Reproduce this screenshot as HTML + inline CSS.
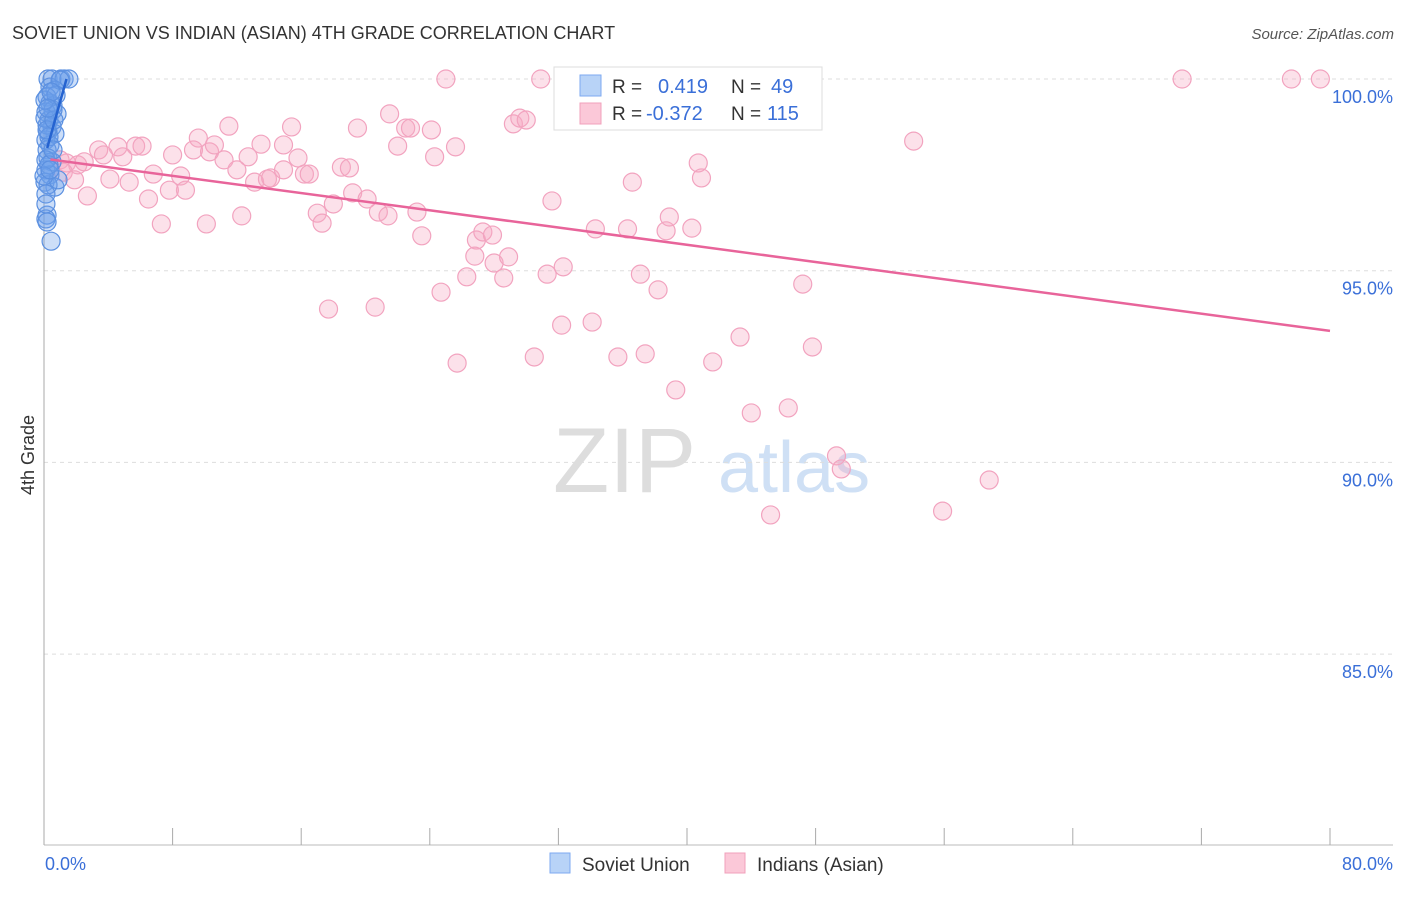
<!DOCTYPE html>
<html><head><meta charset="utf-8"><style>
body{margin:0;background:#fff;font-family:"Liberation Sans",sans-serif}
svg text{font-family:"Liberation Sans",sans-serif}
</style></head><body>
<svg id="c" width="1406" height="892" xmlns="http://www.w3.org/2000/svg">
<text x="12" y="39" font-size="18" fill="#333">SOVIET UNION VS INDIAN (ASIAN) 4TH GRADE CORRELATION CHART</text>
<text x="1394" y="39" font-size="15" fill="#555" font-style="italic" text-anchor="end">Source: ZipAtlas.com</text>
<text x="0" y="0" font-size="18" fill="#333" text-anchor="middle" transform="translate(34,455) rotate(-90)">4th Grade</text>
<g><text x="553" y="492" font-size="92" fill="#ddd" font-family="Liberation Serif,serif">ZIP</text><text x="718" y="492" font-size="72" fill="#cfe0f5">atlas</text></g>
<g id="grid"></g><g id="marks"></g>
<g>
<rect x="554" y="67" width="268" height="63" fill="#fff" stroke="#ddd"/>
<rect x="580" y="75" width="21" height="21" fill="#b8d3f7" stroke="#7eaaf0"/>
<rect x="580" y="103" width="21" height="21" fill="#fbc8d8" stroke="#f0a0bb"/>
<text x="612" y="93" font-size="19" fill="#333">R =</text><text x="658" y="93" font-size="20" fill="#3a6fd8">0.419</text>
<text x="731" y="93" font-size="19" fill="#333">N =</text><text x="771" y="93" font-size="20" fill="#3a6fd8">49</text>
<text x="612" y="120" font-size="19" fill="#333">R =</text><text x="646" y="120" font-size="20" fill="#3a6fd8">-0.372</text>
<text x="731" y="120" font-size="19" fill="#333">N =</text><text x="767" y="120" font-size="20" fill="#3a6fd8">115</text>
</g>
<g>
<rect x="550" y="853" width="20" height="20" fill="#b8d3f7" stroke="#7eaaf0"/>
<text x="582" y="871" font-size="19" fill="#333">Soviet Union</text>
<rect x="725" y="853" width="20" height="20" fill="#fbc8d8" stroke="#f0a0bb"/>
<text x="757" y="871" font-size="19" fill="#333">Indians (Asian)</text>
</g>
</svg>
<script>
const yTicks=[100,95,90,85];
const yTickLabels=["100.0%","95.0%","90.0%","85.0%"];
const xTickLabels=["0.0%","80.0%"];
const blueX=[0.25,0.5,1.05,1.25,1.55,0.37,0.68,0.19,0.37,0.56,0.12,0.81,0.31,0.5,0.25,0.68,0.12,0.37,0.19,0.25,0.5,0.12,0.37,0.06,0.68,0.25,0.12,0.19,0.12,0.19,0.44,0.12,0.31,0.87,0.56,0.19,0.06,1.0,0.75,0.31,0.44,0.06,0.19,0.56,0.0,0.12,0.37,0.62,0.25];
const blueY=[100,100,100,100,100,99.79,99.71,99.53,99.37,99.30,99.14,99.09,98.93,98.75,98.62,98.57,98.41,98.28,98.15,97.94,97.84,97.63,97.50,97.31,97.18,97.24,97.0,96.45,96.35,96.27,95.77,97.89,97.76,97.37,99.19,98.80,99.45,99.97,99.58,98.49,99.66,98.98,98.67,98.15,97.47,96.74,97.63,98.93,99.24];
const pinkX=[25.0,30.9,46.8,70.8,77.6,79.4,54.1,11.5,9.6,15.4,19.5,21.5,22.5,22.8,24.1,25.6,29.2,29.6,30.0,3.4,4.6,5.7,6.1,3.7,4.9,8.0,9.3,10.3,10.6,11.2,12.0,12.7,13.5,14.9,15.8,13.1,13.9,14.1,14.9,16.2,16.5,18.5,19.0,22.0,24.3,1.0,1.4,2.1,2.5,1.2,1.9,2.7,4.1,5.3,6.8,8.5,8.8,7.8,6.5,7.3,10.1,12.3,17.0,17.3,18.0,19.2,20.1,20.8,21.4,23.2,23.5,26.9,27.3,27.9,31.6,34.3,36.3,38.7,38.9,40.3,40.7,40.9,36.6,26.8,28.0,28.9,31.3,32.3,26.3,24.7,28.6,37.1,38.2,47.2,17.7,20.6,32.2,34.1,25.7,30.5,35.7,37.4,41.6,43.3,47.8,39.3,44.0,46.3,49.3,49.6,58.8,45.2,55.9];
const pinkY=[100,100,100,100,100,100,98.38,98.77,98.46,98.75,98.72,99.09,98.72,98.72,98.67,98.23,98.83,98.98,98.93,98.15,98.23,98.25,98.25,98.02,97.97,98.02,98.15,98.10,98.28,97.89,97.63,97.97,98.30,98.28,97.94,97.31,97.39,97.42,97.63,97.52,97.52,97.70,97.68,98.25,97.97,97.89,97.81,97.76,97.84,97.57,97.37,96.95,97.39,97.31,97.52,97.47,97.10,97.10,96.87,96.22,96.22,96.43,96.50,96.24,96.74,97.03,96.87,96.53,96.43,96.53,95.91,95.80,96.01,95.93,96.82,96.09,96.09,96.04,96.40,96.11,97.81,97.42,97.31,95.38,95.20,95.36,94.91,95.10,94.84,94.44,94.81,94.91,94.50,94.65,94.00,94.05,93.58,93.66,92.59,92.75,92.75,92.83,92.62,93.27,93.01,91.89,91.29,91.42,90.17,89.83,89.54,88.63,88.73];
const blueTrend=[[0.2,98.2],[1.4,100]];
const pinkTrend=[[0.4,97.9],[80,93.43]];
const NS="http://www.w3.org/2000/svg";
const X=v=>44+v/80*1286, Y=v=>79+(100-v)*38.34;
const grid=document.getElementById('grid'), marks=document.getElementById('marks');
function mk(p,tag,a){const e=document.createElementNS(NS,tag);for(const k in a)e.setAttribute(k,a[k]);p.appendChild(e);return e;}
yTicks.forEach((t,i)=>{
 const l=mk(grid,'line',{x1:44,x2:1393,y1:Y(t),y2:Y(t),stroke:'#ddd','stroke-dasharray':'4,4'});
 
 
 const tx=mk(grid,'text',{x:1393,y:Y(t)+24,'font-size':18,fill:'#3a6fd8','text-anchor':'end'});tx.textContent=yTickLabels[i];
 
 
});
let ax=mk(grid,'line',{x1:44,x2:44,y1:70,y2:845,stroke:'#aaa'});


ax=mk(grid,'line',{x1:44,x2:1393,y1:845,y2:845,stroke:'#bbb'});


for(let i=0;i<=10;i++){const t=mk(grid,'line',{x1:X(i*8),x2:X(i*8),y1:828,y2:845,stroke:'#aaa'});
 
 }
let xl=mk(grid,'text',{x:45,y:870,'font-size':18,fill:'#3a6fd8'});xl.textContent=xTickLabels[0];


xl=mk(grid,'text',{x:1393,y:870,'font-size':18,fill:'#3a6fd8','text-anchor':'end'});xl.textContent=xTickLabels[1];


pinkX.forEach((v,i)=>{const c=mk(marks,'circle',{cx:X(v),cy:Y(pinkY[i]),r:9,fill:'rgba(246,168,196,0.35)',stroke:'#f2a3bf','stroke-width':1.2});
 
 });
blueX.forEach((v,i)=>{const c=mk(marks,'circle',{cx:X(v),cy:Y(blueY[i]),r:9,fill:'rgba(110,160,235,0.35)',stroke:'#5b90e0','stroke-width':1.2});
 
 });
let tl=mk(marks,'line',{x1:X(pinkTrend[0][0]),y1:Y(pinkTrend[0][1]),x2:X(pinkTrend[1][0]),y2:Y(pinkTrend[1][1]),stroke:'#e8649a','stroke-width':2.5});


tl=mk(marks,'line',{x1:X(blueTrend[0][0]),y1:Y(blueTrend[0][1]),x2:X(blueTrend[1][0]),y2:Y(blueTrend[1][1]),stroke:'#2563d0','stroke-width':2.5});


</script>
</body></html>
